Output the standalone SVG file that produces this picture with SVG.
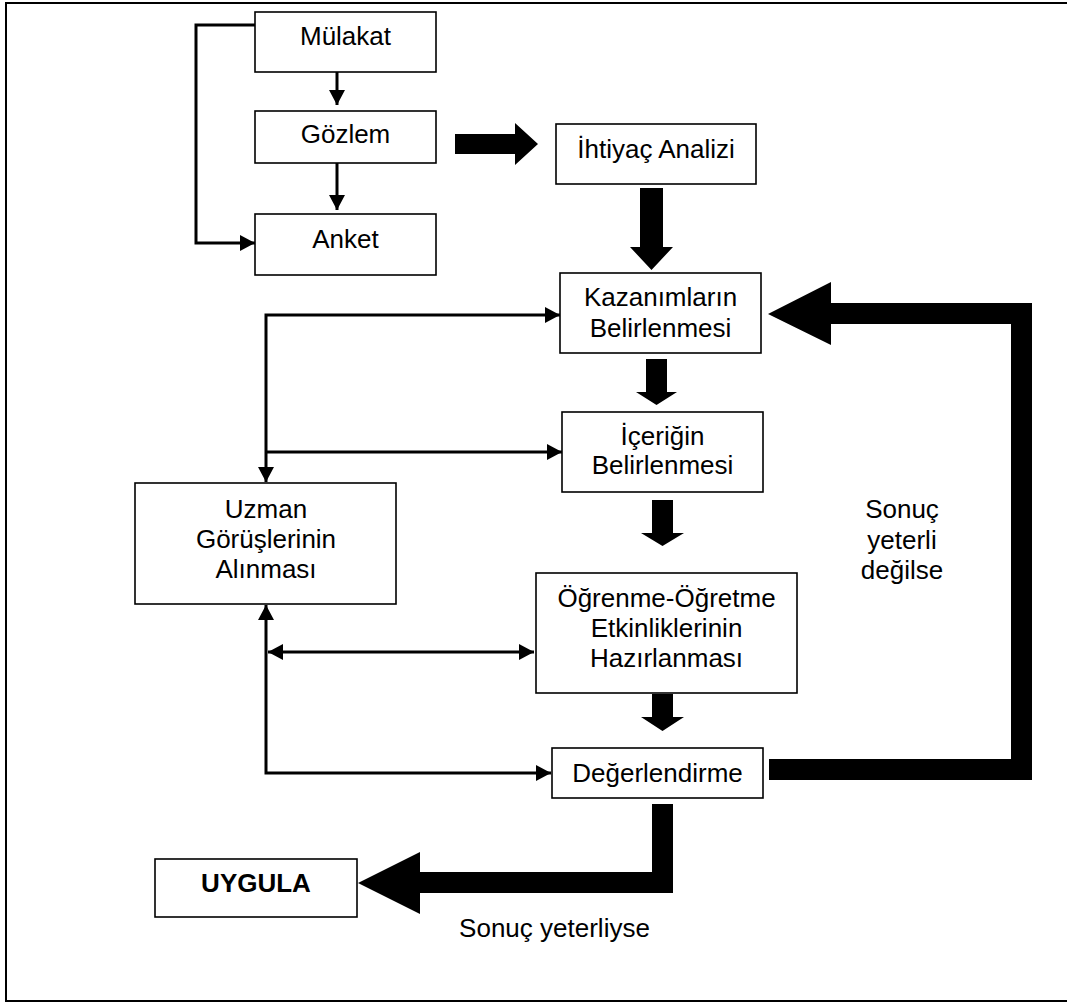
<svg xmlns="http://www.w3.org/2000/svg" width="1067" height="1003" viewBox="0 0 1067 1003">
<style>
.box{fill:#fff;stroke:#000;stroke-width:1.6}
.t{font-family:"Liberation Sans",Arial,sans-serif;font-size:26px;fill:#000;text-anchor:middle}
.b{font-weight:bold}
.ln{fill:none;stroke:#000;stroke-width:3}
.big{fill:#000;stroke:none}
</style>
<defs>
<marker id="ah" markerUnits="userSpaceOnUse" markerWidth="15" markerHeight="16" refX="15" refY="8" orient="auto-start-reverse" viewBox="0 0 15 16">
<path d="M0,0 L15,8 L0,16 Z" fill="#000"/>
</marker>
</defs>
<rect x="6" y="3" width="1080" height="998" fill="#fff" stroke="#000" stroke-width="2"/>
<g id="connectors">
<line class="ln" x1="337" y1="72" x2="337" y2="105" marker-end="url(#ah)"/>
<line class="ln" x1="337" y1="163" x2="337" y2="210" marker-end="url(#ah)"/>
<polyline class="ln" points="255,25 196,25 196,243 255,243" marker-end="url(#ah)"/>
<polygon class="big" points="455,134 515,134 515,123 538,144 515,165 515,154 455,154"/>
<polygon class="big" points="640,188 663,188 663,247 673,247 651.5,270 630,247 640,247"/>
<polygon class="big" points="646,359 667,359 667,392 677,392 656.5,405 636,392 646,392"/>
<polygon class="big" points="652,500 673,500 673,533 684,533 662.5,546 641,533 652,533"/>
<polygon class="big" points="652,694 673,694 673,717 684,717 662.5,731 641,717 652,717"/>
<path class="big" d="M769,759 L1011,759 L1011,324 L831,324 L831,345 L768,314 L831,282 L831,303 L1032,303 L1032,780 L769,780 Z"/>
<path class="big" d="M652,804 L673,804 L673,893 L420,893 L420,914 L358,883 L420,852 L420,872 L652,872 Z"/>
<path class="ln" d="M266,482 L266,315 L560,315" marker-start="url(#ah)" marker-end="url(#ah)"/>
<line class="ln" x1="266" y1="452" x2="562" y2="452" marker-end="url(#ah)"/>
<path class="ln" d="M551,773 L266,773 L266,605" marker-start="url(#ah)" marker-end="url(#ah)"/>
<line class="ln" x1="268" y1="652" x2="534" y2="652" marker-start="url(#ah)" marker-end="url(#ah)"/>
</g>
<g id="mulakat"><rect class="box" x="255" y="12" width="181" height="60"/><text class="t" x="345.5" y="45">Mülakat</text></g>
<g id="gozlem"><rect class="box" x="255" y="111" width="181" height="52"/><text class="t" x="345.5" y="143">Gözlem</text></g>
<g id="anket"><rect class="box" x="255" y="214" width="181" height="61"/><text class="t" x="345.5" y="248">Anket</text></g>
<g id="ihtiyac"><rect class="box" x="556" y="124" width="200" height="60"/><text class="t" x="656" y="158">İhtiyaç Analizi</text></g>
<g id="kazanim"><rect class="box" x="560" y="273" width="201" height="80"/><text class="t" x="660.5" y="306">Kazanımların</text><text class="t" x="660.5" y="337">Belirlenmesi</text></g>
<g id="icerik"><rect class="box" x="562" y="412" width="201" height="80"/><text class="t" x="662.5" y="445">İçeriğin</text><text class="t" x="662.5" y="474">Belirlenmesi</text></g>
<g id="uzman"><rect class="box" x="135" y="483" width="261" height="121"/><text class="t" x="266" y="518">Uzman</text><text class="t" x="266" y="548">Görüşlerinin</text><text class="t" x="266" y="578">Alınması</text></g>
<g id="ogrenme"><rect class="box" x="536" y="573" width="261" height="120"/><text class="t" x="666.5" y="607">Öğrenme-Öğretme</text><text class="t" x="666.5" y="637">Etkinliklerinin</text><text class="t" x="666.5" y="667">Hazırlanması</text></g>
<g id="degerlendirme"><rect class="box" x="552" y="748" width="211" height="50"/><text class="t" x="657.5" y="782">Değerlendirme</text></g>
<g id="uygula"><rect class="box" x="155" y="859" width="202" height="58"/><text class="t b" x="256" y="892">UYGULA</text></g>
<g id="labels">
<text class="t" x="902" y="518">Sonuç</text><text class="t" x="902" y="549">yeterli</text><text class="t" x="902" y="579">değilse</text>
<text class="t" x="554.5" y="937">Sonuç yeterliyse</text>
</g>
</svg>
